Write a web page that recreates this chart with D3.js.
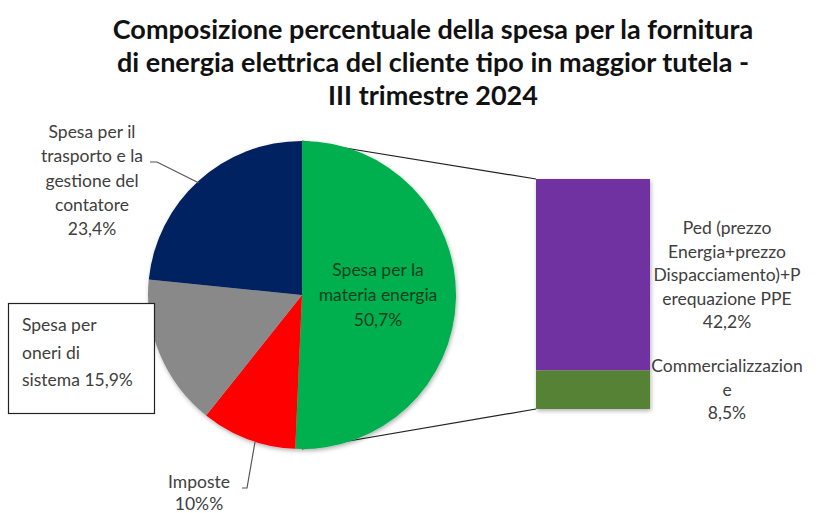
<!DOCTYPE html>
<html>
<head>
<meta charset="utf-8">
<script src="https://cdn.jsdelivr.net/npm/d3@7"></script>
<style>
  html, body { margin: 0; padding: 0; background: #fff; }
  svg { display: block; }
  text { font-family: Lato, "Open Sans", sans-serif; }
</style>
</head>
<body>
<svg id="chart" width="824" height="513"></svg>
<script>
// Pie slices (clockwise from 12 o'clock)
const pieCategories = [
  "Spesa per la materia energia",
  "Imposte",
  "Spesa per oneri di sistema",
  "Spesa per il trasporto e la gestione del contatore"
];
const pieValues = [50.7, 10, 15.9, 23.4];
const pieColors = ["#00B050", "#FF0000", "#898989", "#002060"];

// Breakdown of the "materia energia" slice
const barCategories = ["Ped (prezzo Energia+prezzo Dispacciamento)+Perequazione PPE", "Commercializzazione"];
const barValues = [42.2, 8.5];
const barColors = ["#7030A0", "#548235"];

const titleLines = [
  "Composizione percentuale della spesa per la fornitura",
  "di energia elettrica del cliente tipo in maggior tutela -",
  "III trimestre 2024"
];

const svg = d3.select("#chart");

// Title
svg.append("g").selectAll("text")
  .data(titleLines).join("text")
  .attr("x", 433)
  .attr("y", (d, i) => 39 + i * 33)
  .attr("text-anchor", "middle")
  .attr("font-size", 27)
  .attr("font-weight", "bold")
  .attr("fill", "#111")
  .text(d => d);

const cx = 302, cy = 295, r = 154;

// Stacked bar for the exploded slice
const barX = 536, barW = 114, barTop = 179, barBottom = 409;
const barTotal = d3.sum(barValues);
const yBar = d3.scaleLinear().domain([0, barTotal]).range([barTop, barBottom]);
const stacked = [];
let acc = 0;
barValues.forEach((v, i) => { stacked.push({ y0: acc, y1: acc + v, color: barColors[i] }); acc += v; });

// Connector lines from pie to bar (drawn beneath the pie)
const lines = svg.append("g").attr("stroke", "#222").attr("stroke-width", 1.2).attr("fill", "none");
lines.append("line").attr("x1", cx).attr("y1", cy - r).attr("x2", barX).attr("y2", yBar(0));
lines.append("line").attr("x1", cx).attr("y1", cy + r).attr("x2", barX).attr("y2", yBar(barTotal));

// Soft shadow
const defs = svg.append("defs");
const f = defs.append("filter").attr("id", "sh").attr("x", "-10%").attr("y", "-10%").attr("width", "130%").attr("height", "130%");
f.append("feDropShadow").attr("dx", 1).attr("dy", 2).attr("stdDeviation", 2).attr("flood-color", "#000").attr("flood-opacity", 0.3);

svg.append("g").attr("filter", "url(#sh)")
  .selectAll("rect").data(stacked).join("rect")
  .attr("x", barX).attr("width", barW)
  .attr("y", d => yBar(d.y0))
  .attr("height", d => yBar(d.y1) - yBar(d.y0))
  .attr("fill", d => d.color);

// Pie
const pie = d3.pie().sort(null).value(d => d)(pieValues);
const arc = d3.arc().innerRadius(0).outerRadius(r);
svg.append("g").attr("transform", `translate(${cx},${cy})`).attr("filter", "url(#sh)")
  .selectAll("path").data(pie).join("path")
  .attr("d", arc)
  .attr("fill", (d, i) => pieColors[i]);

// Helper for multi-line labels
function label(lines, x, y0, dy, opts = {}) {
  const t = svg.append("text")
    .attr("text-anchor", opts.anchor || "middle")
    .attr("font-size", opts.size || 17.5)
    .attr("fill", opts.fill || "#404040");
  lines.forEach((s, i) => {
    t.append("tspan").attr("x", x).attr("y", y0 + i * dy).text(s);
  });
  return t;
}

const pct = v => v.toFixed(1).replace(".", ",") + "%";

// Slice labels
label(["Spesa per la", "materia energia", pct(pieValues[0])], 378, 276, 25, { fill: "#0B3F1E" });

label(["Spesa per il", "trasporto e la", "gestione del", "contatore", pct(pieValues[3])], 92, 138, 24.3);

svg.append("rect").attr("x", 8.5).attr("y", 303.5).attr("width", 146).attr("height", 110)
  .attr("fill", "#fff").attr("stroke", "#222").attr("stroke-width", 1.2);
label(["Spesa per", "oneri di", "sistema " + pct(pieValues[2])], 22, 331, 27.5, { anchor: "start" });

label(["Imposte", pieValues[1] + "%%"], 199, 488, 22);

// Leader lines
const leaders = svg.append("g").attr("stroke", "#555").attr("stroke-width", 1.2).attr("fill", "none");
leaders.append("path").attr("d", "M150,162 L157,162 L199,183");
leaders.append("path").attr("d", "M242,488 L247,488 L255,442");

// Bar labels
label(["Ped (prezzo", "Energia+prezzo", "Dispacciamento)+P", "erequazione PPE", pct(barValues[0])], 727, 234, 23.5);
label(["Commercializzazion", "e", pct(barValues[1])], 727, 372, 23.5);
</script>
</body>
</html>
